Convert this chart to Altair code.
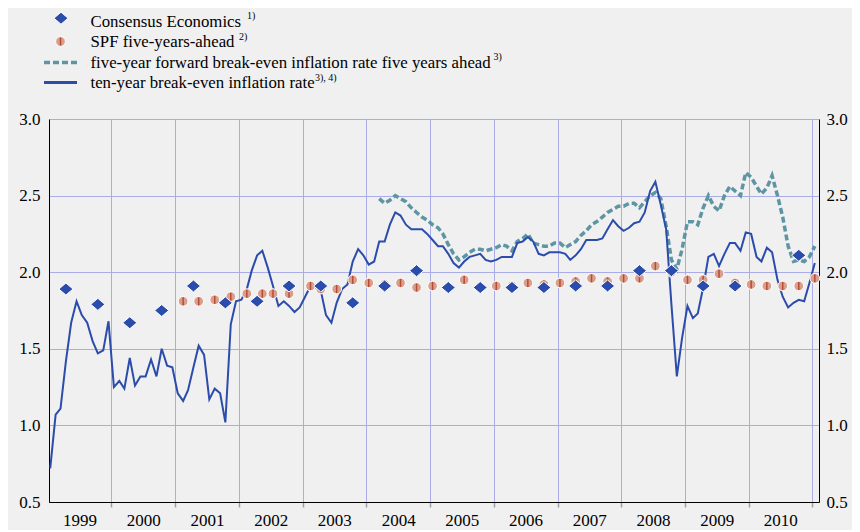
import altair as alt
import pandas as pd

FONT = "Liberation Serif, Times New Roman, Times, DejaVu Serif, serif"
BLUE = "#2B4CAA"
TEAL = "#5E95A3"
SALMON = "#D8A08C"
STRIPE = "#B84A36"
GRID = "#A9ACE6"
BG = "#F0F0F0"

# ten-year break-even inflation rate, monthly from Jan 1999 to Jan 2011
TEN_YEAR_START = "1999-01"
TEN_YEAR = [
    0.72, 1.07, 1.11, 1.42, 1.67, 1.81, 1.72, 1.67, 1.55, 1.47, 1.49, 1.68,  # 1999
    1.25, 1.29, 1.24, 1.44, 1.26, 1.32, 1.32, 1.43, 1.32, 1.50, 1.39, 1.38,  # 2000
    1.21, 1.16, 1.23, 1.38, 1.52, 1.46, 1.17, 1.24, 1.21, 1.02, 1.66, 1.81,  # 2001
    1.82, 1.89, 2.01, 2.11, 2.14, 2.03, 1.91, 1.78, 1.81, 1.78, 1.74, 1.77,  # 2002
    1.84, 1.91, 1.90, 1.88, 1.72, 1.67, 1.80, 1.89, 1.92, 2.07, 2.15, 2.11,  # 2003
    2.05, 2.07, 2.20, 2.20, 2.31, 2.39, 2.37, 2.31, 2.28, 2.28, 2.28, 2.25,  # 2004
    2.21, 2.17, 2.17, 2.12, 2.06, 2.03, 2.07, 2.10, 2.11, 2.12, 2.08, 2.07,  # 2005
    2.08, 2.10, 2.10, 2.10, 2.19, 2.20, 2.23, 2.20, 2.12, 2.11, 2.13, 2.13,  # 2006
    2.13, 2.12, 2.08, 2.11, 2.15, 2.21, 2.21, 2.21, 2.22, 2.28, 2.34, 2.30,  # 2007
    2.27, 2.29, 2.32, 2.33, 2.39, 2.53, 2.59, 2.44, 2.28, 1.79, 1.32, 1.57,  # 2008
    1.78, 1.70, 1.73, 1.90, 2.10, 2.12, 2.04, 2.12, 2.19, 2.19, 2.14, 2.26,  # 2009
    2.25, 2.10, 2.07, 2.16, 2.13, 1.95, 1.84, 1.77, 1.80, 1.82, 1.81, 1.93,  # 2010
    2.06,                                                                    # 2011
]

# five-year forward break-even inflation rate five years ahead, monthly from Mar 2004
FWD_START = "2004-03"
FWD = [
    2.48, 2.45, 2.47, 2.50, 2.48, 2.46, 2.42, 2.39, 2.36, 2.34,              # 2004
    2.31, 2.29, 2.25, 2.18, 2.12, 2.08, 2.10, 2.13, 2.15, 2.15, 2.14, 2.15,  # 2005
    2.16, 2.18, 2.17, 2.14, 2.20, 2.22, 2.25, 2.19, 2.18, 2.17, 2.17, 2.19,  # 2006
    2.19, 2.16, 2.18, 2.20, 2.24, 2.27, 2.31, 2.33, 2.36, 2.39, 2.41, 2.43,  # 2007
    2.43, 2.45, 2.45, 2.42, 2.46, 2.50, 2.52, 2.48, 2.30, 2.08, 2.02, 2.15,  # 2008
    2.33, 2.33, 2.31, 2.42, 2.50, 2.43, 2.40, 2.50, 2.56, 2.53, 2.50, 2.65,  # 2009
    2.62, 2.56, 2.51, 2.55, 2.63, 2.50, 2.36, 2.17, 2.07, 2.08, 2.07, 2.10,  # 2010
    2.17,                                                                    # 2011
]

# Consensus Economics (survey month, value)
CONS_DATES = [
    "1999-04", "1999-10", "2000-04", "2000-10", "2001-04", "2001-10",
    "2002-04", "2002-10", "2003-04", "2003-10", "2004-04", "2004-10",
    "2005-04", "2005-10", "2006-04", "2006-10", "2007-04", "2007-10",
    "2008-04", "2008-10", "2009-04", "2009-10", "2010-10",
]
CONS_VALUES = [
    1.89, 1.79, 1.67, 1.75, 1.91, 1.80,
    1.81, 1.91, 1.91, 1.80, 1.91, 2.01,
    1.90, 1.90, 1.90, 1.90, 1.91, 1.91,
    2.01, 2.01, 1.91, 1.91, 2.11,
]

# SPF five-years-ahead (survey month, value)
SPF_DATES = [
    "2001-02", "2001-05", "2001-08", "2001-11",
    "2002-02", "2002-05", "2002-07", "2002-10",
    "2003-02", "2003-04", "2003-07", "2003-10",
    "2004-01", "2004-04", "2004-07", "2004-10",
    "2005-01", "2005-04", "2005-07", "2005-10",
    "2006-01", "2006-04", "2006-07", "2006-10",
    "2007-01", "2007-04", "2007-07", "2007-10",
    "2008-01", "2008-04", "2008-07", "2008-10",
    "2009-01", "2009-04", "2009-07", "2009-10",
    "2010-01", "2010-04", "2010-07", "2010-10",
    "2011-01",
]
SPF_VALUES = [
    1.81, 1.81, 1.82, 1.84,
    1.86, 1.86, 1.86, 1.86,
    1.91, 1.89, 1.89, 1.95,
    1.93, 1.92, 1.93, 1.90,
    1.91, 1.90, 1.95, 1.90,
    1.91, 1.91, 1.93, 1.92,
    1.93, 1.94, 1.96, 1.94,
    1.96, 1.96, 2.04, 2.00,
    1.95, 1.95, 1.99, 1.93,
    1.92, 1.91, 1.91, 1.91,
    1.96,
]

LEGEND_LABELS = [
    "Consensus Economics",
    "SPF five-years-ahead",
    "five-year forward break-even inflation rate five years ahead",
    "ten-year break-even inflation rate",
]
LEGEND_NOTES = ["1)", "2)", "3)", "3), 4)"]

Y_TICKS = [0.5, 1.0, 1.5, 2.0, 2.5, 3.0]
YEAR_LINES = list(range(2000, 2012))


def monthly(start, values):
    dates = pd.date_range(start + "-01", periods=len(values), freq="MS") + pd.Timedelta(days=14)
    return pd.DataFrame({"date": dates.strftime("%Y-%m-%d"), "value": values})


def survey(dates, values):
    return pd.DataFrame({"date": [d + "-15" for d in dates], "value": values})


ten_df = monthly(TEN_YEAR_START, TEN_YEAR)
fwd_df = monthly(FWD_START, FWD)
cons_df = survey(CONS_DATES, CONS_VALUES)
spf_df = survey(SPF_DATES, SPF_VALUES)

xscale = alt.Scale(
    type="utc",
    domain=[alt.DateTime(year=1999, month=1, date=8, utc=True),
            alt.DateTime(year=2011, month=2, date=8, utc=True)],
)
yscale = alt.Scale(domain=[0.5, 3.0], nice=False, zero=False)

X = alt.X(
    "date:T", scale=xscale, title=None,
    axis=alt.Axis(
        values=[alt.DateTime(year=y, month=1, date=1, utc=True) for y in YEAR_LINES],
        labelExpr="utcyear(datum.value) - 1",
        labelOffset=-32, labelPadding=5, labelOverlap=False, labelFlush=False,
        grid=True, tickSize=5, tickColor="#A0A0A0", tickWidth=1.5,
        domainColor="black", domainWidth=1,
    ),
)
Y_LEFT = alt.Y(
    "value:Q", scale=yscale, title=None,
    axis=alt.Axis(values=Y_TICKS, format=".1f", ticks=False, labelPadding=9,
                  grid=True, orient="left", labelFlush=False),
)
Y_RIGHT = alt.Y(
    "value:Q", scale=yscale, title=None,
    axis=alt.Axis(values=Y_TICKS, format=".1f", ticks=False, labelPadding=7,
                  grid=False, orient="right", labelFlush=False),
)

DIAMOND = "M-1,0L0,-0.85L1,0L0,0.85Z"
DIAMOND_SIZE = 200
CIRCLE_SIZE = 95

fwd_line = alt.Chart(fwd_df).mark_line(color=TEAL, strokeWidth=3.5, strokeDash=[6, 3]).encode(x=X, y=Y_LEFT)
ten_line = alt.Chart(ten_df).mark_line(color=BLUE, strokeWidth=2).encode(x=X, y=Y_LEFT)
spf_pts = alt.Chart(spf_df).mark_circle(size=CIRCLE_SIZE, color=SALMON, stroke="white", strokeWidth=1,
                                        opacity=1).encode(x=X, y=Y_LEFT)
spf_stripes = alt.Chart(spf_df).mark_tick(orient="vertical", size=8, thickness=1.5, color=STRIPE,
                                          opacity=1).encode(x=X, y=Y_LEFT)
cons_pts = alt.Chart(cons_df).mark_point(shape=DIAMOND, filled=True, size=DIAMOND_SIZE, color=BLUE,
                                         stroke="white", strokeWidth=1, opacity=1).encode(x=X, y=Y_LEFT)

ONE = alt.Data(values=[{"k": 0}])


def text_at(txt, x, y, size):
    return alt.Chart(ONE).mark_text(align="left", baseline="alphabetic", font=FONT, fontSize=size,
                                    color="black").encode(x=alt.value(x), y=alt.value(y), text=alt.value(txt))


TX = 41.5
LEGEND_FONT_SIZE = 16.8
rows_base = [-92.5, -72.0, -51.5, -31.0]
note_x = [198.0, 190.0, 444.5, 266.0]
legend = []
legend.append(alt.Chart(ONE).mark_point(shape=DIAMOND, filled=True, size=DIAMOND_SIZE, color=BLUE,
                                        stroke="white", strokeWidth=1, opacity=1).encode(
    x=alt.value(12), y=alt.value(-100.8)))
legend.append(alt.Chart(ONE).mark_circle(size=CIRCLE_SIZE, color=SALMON, stroke="white", strokeWidth=1,
                                         opacity=1).encode(x=alt.value(11.5), y=alt.value(-77.5)))
legend.append(alt.Chart(ONE).mark_tick(orient="vertical", size=8, thickness=1.5, color=STRIPE,
                                       opacity=1).encode(x=alt.value(11.5), y=alt.value(-77.5)))
legend.append(alt.Chart(ONE).mark_rule(color=TEAL, strokeWidth=3.5, strokeDash=[6, 3]).encode(
    x=alt.value(-5), x2=alt.value(28), y=alt.value(-56.5)))
legend.append(alt.Chart(ONE).mark_rule(color=BLUE, strokeWidth=3).encode(
    x=alt.value(-5), x2=alt.value(28), y=alt.value(-36.5)))
for label, note, yb, nx in zip(LEGEND_LABELS, LEGEND_NOTES, rows_base, note_x):
    legend.append(text_at(label, TX, yb, LEGEND_FONT_SIZE))
    legend.append(text_at(note, nx, yb - 7.5, 10))

main = alt.layer(fwd_line, ten_line, spf_pts, spf_stripes, cons_pts, *legend)
right = alt.Chart(ten_df).mark_line(opacity=0).encode(x=X, y=Y_RIGHT)

chart = (
    alt.layer(main, right)
    .resolve_scale(y="independent")
    .properties(
        width=770, height=383,
        autosize=alt.AutoSizeParams(type="none"),
        padding={"left": 41, "top": 111, "right": 33, "bottom": 28},
    )
    .configure(background=BG, font=FONT)
    .configure_view(stroke=None)
    .configure_axis(labelFont=FONT, labelFontSize=17, labelColor="black",
                    domainColor="black", gridColor=GRID, gridWidth=1)
)

chart.save("out.html", embed_options={"renderer": "svg", "actions": False})
